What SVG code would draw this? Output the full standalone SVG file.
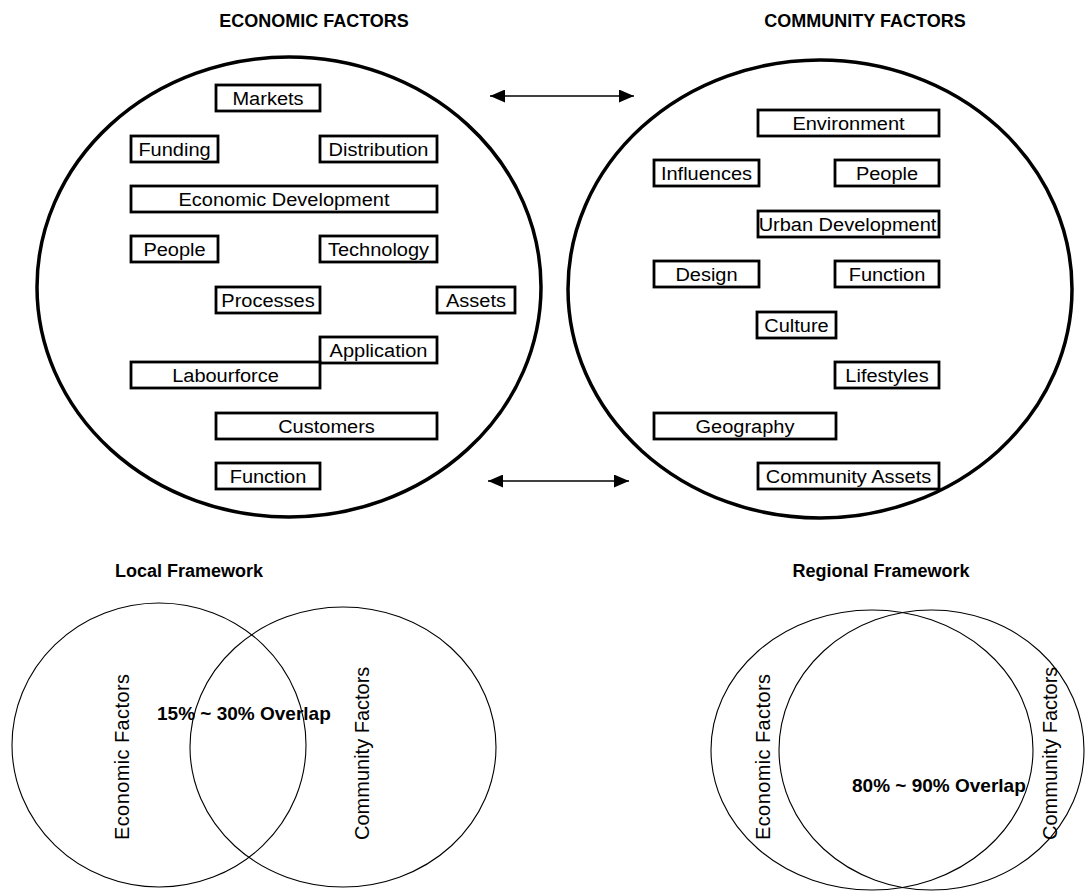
<svg xmlns="http://www.w3.org/2000/svg" width="1085" height="893" viewBox="0 0 1085 893">
<style>
text{font-family:"Liberation Sans",Arial,Helvetica,sans-serif;fill:#000}
.title{font-size:18px;font-weight:bold;text-anchor:middle}
.sub{font-size:18px;font-weight:bold;text-anchor:middle}
.lbl{font-size:20px;text-anchor:middle}
.vt{font-size:20px}
.ov{font-size:19px;font-weight:bold}
.box{fill:#fff;stroke:#000;stroke-width:2.8}
.big{fill:none;stroke:#000;stroke-width:3.5}
.venn{fill:none;stroke:#000;stroke-width:1.1}
.conn{stroke:#000;stroke-width:1.3;fill:none}
</style>
<defs>
<marker id="ah" viewBox="0 0 15 13" refX="15" refY="6.5" markerWidth="15" markerHeight="13" markerUnits="userSpaceOnUse" orient="auto-start-reverse">
<path d="M0,0 L15,6.5 L0,13 z" fill="#000"/>
</marker>
</defs>
<rect width="1085" height="893" fill="#fff"/>

<text class="title" x="314" y="27">ECONOMIC FACTORS</text>
<text class="title" x="865" y="27">COMMUNITY FACTORS</text>

<g id="economic-circle"><ellipse class="big" cx="289" cy="287" rx="252" ry="230"/></g>
<g id="community-circle"><ellipse class="big" cx="820" cy="289" rx="252" ry="229"/></g>

<g id="connectors">
<line class="conn" x1="490" y1="96" x2="634" y2="96" marker-start="url(#ah)" marker-end="url(#ah)"/>
<line class="conn" x1="488" y1="481" x2="629" y2="481" marker-start="url(#ah)" marker-end="url(#ah)"/>
</g>

<g id="e-markets"><rect class="box" x="216" y="85" width="104" height="26"/><text class="lbl" transform="translate(268,104.5) scale(1,0.92)">Markets</text></g>
<g id="e-funding"><rect class="box" x="131" y="136" width="87" height="26"/><text class="lbl" transform="translate(174.5,155.5) scale(1,0.92)">Funding</text></g>
<g id="e-distribution"><rect class="box" x="320" y="136" width="117" height="26"/><text class="lbl" transform="translate(378.5,155.5) scale(1,0.92)">Distribution</text></g>
<g id="e-econdev"><rect class="box" x="131" y="186" width="306" height="26"/><text class="lbl" transform="translate(284,205.5) scale(1,0.92)">Economic Development</text></g>
<g id="e-people"><rect class="box" x="131" y="236" width="87" height="26"/><text class="lbl" transform="translate(174.5,255.5) scale(1,0.92)">People</text></g>
<g id="e-technology"><rect class="box" x="320" y="236" width="117" height="26"/><text class="lbl" transform="translate(378.5,255.5) scale(1,0.92)">Technology</text></g>
<g id="e-processes"><rect class="box" x="216" y="287" width="104" height="26"/><text class="lbl" transform="translate(268,306.5) scale(1,0.92)">Processes</text></g>
<g id="e-assets"><rect class="box" x="437" y="287" width="78" height="26"/><text class="lbl" transform="translate(476,306.5) scale(1,0.92)">Assets</text></g>
<g id="e-application"><rect class="box" x="320" y="337" width="117" height="26"/><text class="lbl" transform="translate(378.5,356.5) scale(1,0.92)">Application</text></g>
<g id="e-labourforce"><rect class="box" x="131" y="362" width="189" height="26"/><text class="lbl" transform="translate(225.5,381.5) scale(1,0.92)">Labourforce</text></g>
<g id="e-customers"><rect class="box" x="216" y="413" width="221" height="26"/><text class="lbl" transform="translate(326.5,432.5) scale(1,0.92)">Customers</text></g>
<g id="e-function"><rect class="box" x="216" y="463" width="104" height="26"/><text class="lbl" transform="translate(268,482.5) scale(1,0.92)">Function</text></g>

<g id="c-environment"><rect class="box" x="758" y="110" width="181" height="26"/><text class="lbl" transform="translate(848.5,129.5) scale(1,0.92)">Environment</text></g>
<g id="c-influences"><rect class="box" x="654" y="160" width="105" height="26"/><text class="lbl" transform="translate(706.5,179.5) scale(1,0.92)">Influences</text></g>
<g id="c-people"><rect class="box" x="835" y="160" width="104" height="26"/><text class="lbl" transform="translate(887,179.5) scale(1,0.92)">People</text></g>
<g id="c-urbandev"><rect class="box" x="758" y="211" width="181" height="26"/><text class="lbl" transform="translate(847.5,230.5) scale(1,0.92)">Urban Development</text></g>
<g id="c-design"><rect class="box" x="654" y="261" width="105" height="26"/><text class="lbl" transform="translate(706.5,280.5) scale(1,0.92)">Design</text></g>
<g id="c-function"><rect class="box" x="835" y="261" width="104" height="26"/><text class="lbl" transform="translate(887,280.5) scale(1,0.92)">Function</text></g>
<g id="c-culture"><rect class="box" x="757" y="312" width="79" height="26"/><text class="lbl" transform="translate(796.5,331.5) scale(1,0.92)">Culture</text></g>
<g id="c-lifestyles"><rect class="box" x="835" y="362" width="104" height="26"/><text class="lbl" transform="translate(887,381.5) scale(1,0.92)">Lifestyles</text></g>
<g id="c-geography"><rect class="box" x="654" y="413" width="182" height="26"/><text class="lbl" transform="translate(745,432.5) scale(1,0.92)">Geography</text></g>
<g id="c-assets"><rect class="box" x="758" y="463" width="181" height="26"/><text class="lbl" transform="translate(848.5,482.5) scale(1,0.92)">Community Assets</text></g>

<g id="local-framework">
<text class="sub" x="189" y="577">Local Framework</text>
<ellipse class="venn" cx="159" cy="745" rx="147" ry="142"/>
<ellipse class="venn" cx="343" cy="747" rx="153" ry="140"/>
<text class="vt" transform="translate(129,840) rotate(-90)" textLength="166" lengthAdjust="spacing">Economic Factors</text>
<text class="vt" transform="translate(369,840) rotate(-90)">Community Factors</text>
<text class="ov" x="157" y="720">15% ~ 30% Overlap</text>
</g>

<g id="regional-framework">
<text class="sub" x="881" y="577">Regional Framework</text>
<ellipse class="venn" cx="872" cy="750" rx="161" ry="140"/>
<ellipse class="venn" cx="931.5" cy="750" rx="152.5" ry="140"/>
<text class="vt" transform="translate(770,840) rotate(-90)" textLength="166" lengthAdjust="spacing">Economic Factors</text>
<text class="vt" transform="translate(1057,840) rotate(-90)">Community Factors</text>
<text class="ov" x="852" y="792">80% ~ 90% Overlap</text>
</g>
</svg>
